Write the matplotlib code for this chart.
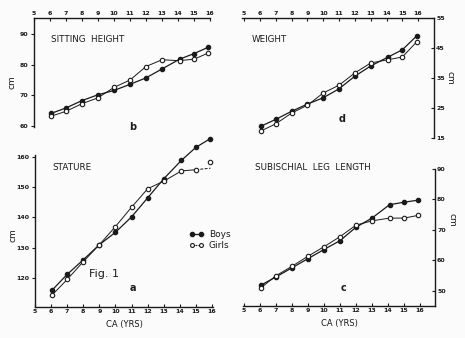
import numpy as np
import matplotlib
matplotlib.use('Agg')
import matplotlib.pyplot as plt
from matplotlib.lines import Line2D

plt.rcParams['font.family'] = ['DejaVu Sans']

W, H = 465, 338
INK = '#1a1a1a'

# ages (yrs) at which means were plotted
ages = [6.05, 7, 8, 9, 10, 11, 12, 13, 14.1, 15, 15.9]
age_ticks = list(range(5, 17))

# a: stature (cm)
stature_boys = [115.9, 121.2, 126.0, 131.0, 135.1, 140.2, 146.5, 152.8, 158.9, 163.2, 166.1]
stature_girls = [114.3, 119.5, 125.4, 131.0, 137.0, 143.4, 149.5, 152.0, 155.4, 155.8]
stature_girls_tail = [155.8, 156.3]   # unmarked end of the girls curve
stature_girls_last = 158.4            # isolated point at 16 yrs

# b: sitting height (cm)
sitting_boys = [64.1, 65.9, 68.3, 70.2, 71.6, 73.6, 75.7, 78.6, 81.8, 83.6, 85.7]
sitting_girls = [63.2, 64.8, 67.3, 69.2, 72.6, 75.0, 79.4, 81.6, 81.3, 81.8, 83.8]

# c: subischial leg length (cm)
leg_boys = [51.9, 54.6, 57.6, 60.6, 63.6, 66.5, 70.9, 73.9, 78.3, 79.1, 79.8]
leg_girls = [51.0, 55.0, 58.1, 61.4, 64.5, 67.8, 71.6, 73.0, 73.9, 73.9, 74.8]

# d: weight
weight_boys = [18.9, 21.2, 23.9, 26.3, 28.4, 31.4, 35.6, 39.0, 42.0, 44.4, 49.0]
weight_girls = [17.3, 19.7, 23.3, 25.9, 30.0, 32.6, 36.7, 40.0, 41.1, 42.0, 47.0]

fig = plt.figure(figsize=(W / 100, H / 100), dpi=100)
fig.patch.set_facecolor('#fbfbfb')


def add_ax(l, t, r, b):
    ax = fig.add_axes([l / W, 1 - b / H, (r - l) / W, (b - t) / H])
    ax.set_facecolor('none')
    for s in ax.spines.values():
        s.set_color(INK)
        s.set_linewidth(1.0)
    ax.tick_params(colors=INK, labelsize=4.5, width=0.8, length=2.5, direction='in', pad=1.5)
    for lab in ax.get_xticklabels() + ax.get_yticklabels():
        lab.set_fontweight('bold')
    ax.set_xticks(age_ticks)
    return ax


def bold_ticks(ax):
    for lab in ax.get_xticklabels() + ax.get_yticklabels():
        lab.set_fontweight('bold')


def plot_pair(ax, boys, girls, x_girls=None):
    xg = ages if x_girls is None else x_girls
    ax.plot(ages, boys, color=INK, lw=0.9, marker='o', ms=3.0,
            mfc=INK, mec=INK, clip_on=False, zorder=3)
    ax.plot(xg, girls, color=INK, lw=0.7, marker='o', ms=3.2,
            mfc='white', mec=INK, mew=0.8, clip_on=False, zorder=3)


# panel b: sitting height (top left)
axb = add_ax(34, 18, 210, 127)
axb.set_xlim(5, 16)
axb.set_ylim(59.7, 95.2)
axb.spines['bottom'].set_visible(False)
axb.spines['right'].set_visible(False)
axb.xaxis.tick_top()
axb.set_yticks([60, 70, 80, 90])
axb.tick_params(axis='y', direction='out')
plot_pair(axb, sitting_boys, sitting_girls)

# panel d: weight (top right)
axd = add_ax(242, 18, 434, 138)
axd.set_xlim(4.87, 17.0)
axd.set_ylim(15, 55)
axd.spines['bottom'].set_visible(False)
axd.spines['left'].set_visible(False)
axd.xaxis.tick_top()
axd.yaxis.tick_right()
axd.set_yticks([15, 25, 35, 45, 55])
plot_pair(axd, weight_boys, weight_girls)

# panel a: stature (bottom left)
axa = add_ax(35, 155, 213, 307)
axa.set_xlim(5, 16.06)
axa.set_ylim(110.4, 160.66)
axa.spines['top'].set_visible(False)
axa.spines['right'].set_visible(False)
axa.set_yticks([120, 130, 140, 150, 160])
axa.tick_params(axis='y', direction='out')
plot_pair(axa, stature_boys, stature_girls, x_girls=ages[:10])
axa.plot([ages[9], ages[10]], stature_girls_tail, color=INK, lw=0.7,
         ls=(0, (3, 1.5)), clip_on=False)
axa.plot([ages[10]], [stature_girls_last], 'o', ms=3.2, mfc='white',
         mec=INK, mew=0.8, clip_on=False)
axa.set_xlabel('CA (YRS)', fontsize=6, color=INK, labelpad=4)

# panel c: subischial leg length (bottom right)
axc = add_ax(243, 169, 435, 306)
axc.set_xlim(4.94, 16.94)
axc.set_ylim(45.08, 90)
axc.spines['top'].set_visible(False)
axc.spines['left'].set_visible(False)
axc.yaxis.tick_right()
axc.set_yticks([50, 60, 70, 80, 90])
plot_pair(axc, leg_boys, leg_girls)
axc.set_xlabel('CA (YRS)', fontsize=6, color=INK, labelpad=4)

for ax in (axa, axb, axc, axd):
    bold_ticks(ax)

# panel titles and letters
title_kw = dict(fontsize=6.3, color=INK, va='center', ha='left')
fig.text(51 / W, 1 - 40 / H, 'SITTING  HEIGHT', **title_kw)
fig.text(252 / W, 1 - 39 / H, 'WEIGHT', **title_kw)
fig.text(52 / W, 1 - 167 / H, 'STATURE', **title_kw)
fig.text(255 / W, 1 - 167 / H, 'SUBISCHIAL  LEG  LENGTH', **title_kw)

letter_kw = dict(fontsize=7, fontweight='bold', color=INK, ha='center', va='center')
fig.text(133 / W, 1 - 127 / H, 'b', **letter_kw)
fig.text(342 / W, 1 - 119 / H, 'd', **letter_kw)
fig.text(133 / W, 1 - 288 / H, 'a', **letter_kw)
fig.text(343 / W, 1 - 288 / H, 'c', **letter_kw)

fig.text(104 / W, 1 - 274 / H, 'Fig. 1', fontsize=8, color=INK, ha='center', va='center')

cm_kw = dict(fontsize=6.5, color=INK, ha='center', va='center')
fig.text(12 / W, 1 - 82 / H, 'cm', rotation=90, **cm_kw)
fig.text(13 / W, 1 - 235 / H, 'cm', rotation=90, **cm_kw)
fig.text(450 / W, 1 - 78 / H, 'cm', rotation=-90, **cm_kw)
fig.text(452 / W, 1 - 220 / H, 'cm', rotation=-90, **cm_kw)

# legend
handles = [
    Line2D([], [], color=INK, lw=0.9, marker='o', ms=3.0, mfc=INK, mec=INK),
    Line2D([], [], color=INK, lw=0.7, ls=(0, (2, 1)), marker='o', ms=2.8,
           mfc='white', mec=INK, mew=0.8),
]
axa.legend(handles, ['Boys', 'Girls'], loc='center left', numpoints=2,
           bbox_to_anchor=(189 / W, 1 - 240 / H), bbox_transform=fig.transFigure,
           frameon=False, fontsize=6.5, handlelength=1.6, handletextpad=0.6,
           labelspacing=0.15, borderpad=0, borderaxespad=0, labelcolor=INK)

fig.savefig('out.png', dpi=100, facecolor=fig.get_facecolor())
